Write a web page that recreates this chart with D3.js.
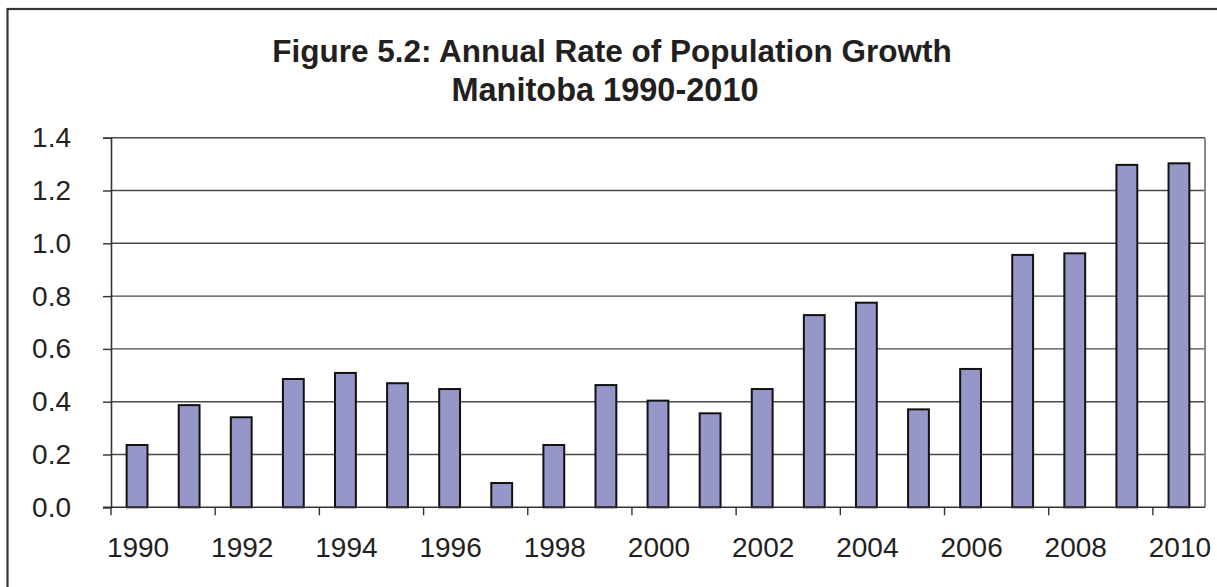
<!DOCTYPE html>
<html>
<head>
<meta charset="utf-8">
<script src="https://cdn.jsdelivr.net/npm/d3@7"></script>
<style>
  body { margin: 0; background: #fff; }
  svg { display: block; font-family: "Liberation Sans", Arial, sans-serif; }
</style>
</head>
<body>
<div id="chart"></div>
<script>
//chart data
var years = [1990, 1991, 1992, 1993, 1994, 1995, 1996, 1997, 1998, 1999, 2000,
             2001, 2002, 2003, 2004, 2005, 2006, 2007, 2008, 2009, 2010];
var growth = [0.236, 0.387, 0.341, 0.486, 0.509, 0.470, 0.448, 0.092, 0.236, 0.463, 0.404,
              0.356, 0.448, 0.728, 0.775, 0.371, 0.524, 0.956, 0.962, 1.297, 1.303];
var yTicks = [0, 0.2, 0.4, 0.6, 0.8, 1.0, 1.2, 1.4];
var titleLines = ["Figure 5.2: Annual Rate of Population Growth", "Manitoba 1990-2010"];

//page dimensions
var width = 1217,
    height = 587;

var plot = {left: 111, right: 1205, top: 137.7, bottom: 507.3};

var svg = d3.select("#chart").append("svg")
    .attr("width", width)
    .attr("height", height);

//outer frame (right and bottom edges fall outside the picture)
svg.append("rect")
    .attr("x", 7.5)
    .attr("y", 9)
    .attr("width", 1240)
    .attr("height", 620)
    .attr("fill", "none")
    .attr("stroke", "#333")
    .attr("stroke-width", 2.2);

//title
svg.selectAll(".title")
    .data(titleLines)
    .enter()
    .append("text")
    .attr("class", "title")
    .attr("x", function(d, i) { return i == 0 ? 612 : 605; })
    .attr("y", function(d, i) { return 62 + i * 39; })
    .attr("text-anchor", "middle")
    .style("font-size", function(d, i) { return i == 0 ? "31.5px" : "32.5px"; })
    .style("font-weight", "bold")
    .style("fill", "#231f20")
    .text(function(d) { return d; });

//scales
var x = d3.scaleBand()
    .domain(years)
    .range([plot.left, plot.right])
    .paddingInner(0.6)
    .paddingOuter(0.3);

var y = d3.scaleLinear()
    .domain([0, 1.4])
    .range([plot.bottom, plot.top]);

//gridlines
svg.append("g")
    .selectAll("line")
    .data(yTicks.slice(1))
    .enter()
    .append("line")
    .attr("x1", plot.left)
    .attr("x2", plot.right)
    .attr("y1", function(d) { return y(d); })
    .attr("y2", function(d) { return y(d); })
    .attr("stroke", "#4a4a4a")
    .attr("stroke-width", 1.4);

//right edge of plot area
svg.append("line")
    .attr("x1", plot.right)
    .attr("x2", plot.right)
    .attr("y1", plot.top)
    .attr("y2", plot.bottom)
    .attr("stroke", "#8a8a8a")
    .attr("stroke-width", 2);

//bars
svg.append("g")
    .selectAll("rect")
    .data(growth)
    .enter()
    .append("rect")
    .attr("x", function(d, i) { return x(years[i]); })
    .attr("y", function(d) { return y(d); })
    .attr("width", x.bandwidth())
    .attr("height", function(d) { return y(0) - y(d); })
    .attr("fill", "#9696c8")
    .attr("stroke", "#111")
    .attr("stroke-width", 2);

//y axis
var yAxis = d3.axisLeft(y)
    .tickValues(yTicks)
    .tickFormat(d3.format(".1f"))
    .tickSize(8)
    .tickPadding(32);

var yg = svg.append("g")
    .attr("transform", "translate(" + plot.left + ",0)")
    .call(yAxis);
yg.select(".domain").attr("stroke", "#333").attr("stroke-width", 1.6);
yg.selectAll(".tick line").attr("stroke", "#333").attr("stroke-width", 1.4);
yg.selectAll(".tick text")
    .style("font-size", "28px")
    .style("font-family", "'Liberation Sans', Arial, sans-serif")
    .style("fill", "#231f20");

//x axis line
svg.append("line")
    .attr("x1", plot.left - 8)
    .attr("x2", plot.right)
    .attr("y1", y(0))
    .attr("y2", y(0))
    .attr("stroke", "#333")
    .attr("stroke-width", 1.6);

//x tick marks at every second category boundary
var step = x.step();
var boundaryYears = years.filter(function(d, i) { return i % 2 == 0; });
svg.append("g")
    .selectAll("line")
    .data(boundaryYears)
    .enter()
    .append("line")
    .attr("x1", function(d) { return x(d) - x.paddingOuter() * step; })
    .attr("x2", function(d) { return x(d) - x.paddingOuter() * step; })
    .attr("y1", y(0))
    .attr("y2", y(0) + 8)
    .attr("stroke", "#333")
    .attr("stroke-width", 1.4);

//x labels
svg.append("g")
    .selectAll("text")
    .data(boundaryYears)
    .enter()
    .append("text")
    .attr("x", function(d) { return x(d) + x.bandwidth() / 2 + 1; })
    .attr("y", 557)
    .attr("text-anchor", "middle")
    .style("font-size", "28px")
    .style("fill", "#231f20")
    .text(function(d) { return d; });
</script>
</body>
</html>
